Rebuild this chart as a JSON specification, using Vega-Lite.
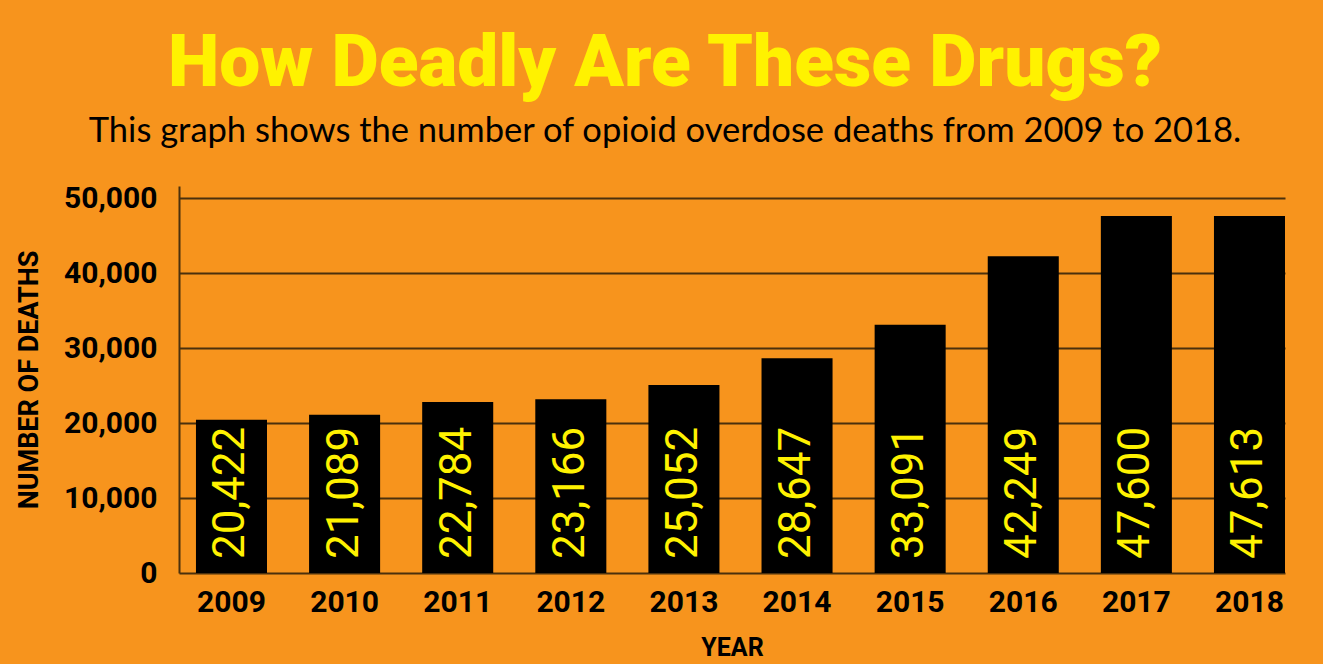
{
  "$schema": "https://vega.github.io/schema/vega-lite/v6.json",
  "autosize": {"type": "none"},
  "width": 1106,
  "height": 387,
  "padding": {"left": 179, "top": 186, "right": 38, "bottom": 91},
  "background": "#F7941D",
  "title": {
    "text": "How Deadly Are These Drugs?",
    "subtitle": "This graph shows the number of opioid overdose deaths from 2009 to 2018.",
    "anchor": "middle",
    "frame": "group",
    "dx": -67,
    "color": "#FFF200",
    "font": "Roboto",
    "fontSize": 73,
    "fontWeight": 900,
    "subtitleColor": "#000000",
    "subtitleFont": "Lato",
    "subtitleFontSize": 34.5,
    "subtitlePadding": 14,
    "offset": 35
  },
  "data": {
    "values": [
      {"year": "2009", "deaths": 20422},
      {"year": "2010", "deaths": 21089},
      {"year": "2011", "deaths": 22784},
      {"year": "2012", "deaths": 23166},
      {"year": "2013", "deaths": 25052},
      {"year": "2014", "deaths": 28647},
      {"year": "2015", "deaths": 33091},
      {"year": "2016", "deaths": 42249},
      {"year": "2017", "deaths": 47600},
      {"year": "2018", "deaths": 47613}
    ]
  },
  "encoding": {
    "x": {
      "field": "year",
      "type": "ordinal",
      "scale": {"paddingInner": 0.372, "paddingOuter": 0.075, "align": 1},
      "axis": {
        "title": "YEAR",
        "labelAngle": 0,
        "ticks": false,
        "domain": false,
        "labelFont": "Roboto",
        "labelFontSize": 30,
        "labelFontWeight": "bold",
        "labelColor": "#000000",
        "labelPadding": 14,
        "titleFont": "Roboto",
        "titleFontSize": 25,
        "titleFontWeight": "bold",
        "titleColor": "#000000",
        "titlePadding": 18
      }
    },
    "y": {
      "field": "deaths",
      "type": "quantitative",
      "scale": {"domain": [0, 51600], "nice": false},
      "axis": {
        "title": "NUMBER OF DEATHS",
        "values": [0, 10000, 20000, 30000, 40000, 50000],
        "format": ",d",
        "grid": true,
        "gridColor": "#4b300d",
        "gridWidth": 2,
        "domain": true,
        "domainColor": "#4b300d",
        "domainWidth": 2,
        "ticks": false,
        "labelFont": "Roboto",
        "labelFontSize": 30,
        "labelFontWeight": "bold",
        "labelColor": "#000000",
        "labelPadding": 22,
        "titleFont": "Roboto",
        "titleFontSize": 27,
        "titleFontWeight": "bold",
        "titleColor": "#000000",
        "titlePadding": 20
      }
    }
  },
  "layer": [
    {"mark": {"type": "bar", "color": "#000000"}},
    {
      "mark": {
        "type": "text",
        "angle": 270,
        "align": "left",
        "baseline": "middle",
        "dx": 14,
        "font": "Roboto",
        "fontSize": 44,
        "color": "#FFF200"
      },
      "encoding": {
        "y": {"datum": 0, "type": "quantitative"},
        "text": {"field": "deaths", "type": "quantitative", "format": ",d"}
      }
    }
  ],
  "config": {"view": {"stroke": null}}
}
